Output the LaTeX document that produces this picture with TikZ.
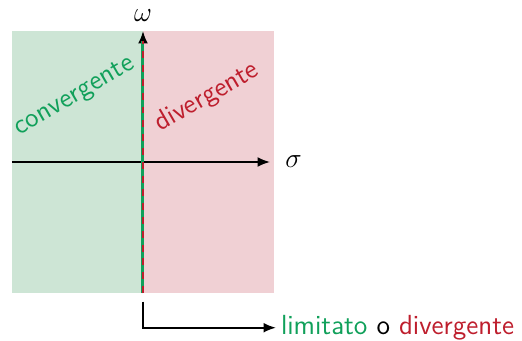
\documentclass[tikz,border=0pt]{standalone}
\usepackage{tikz}
\usetikzlibrary{arrows.meta, positioning, calc}
\definecolor{ConvGreen}{RGB}{16,160,90}
\definecolor{DivRed}{RGB}{190,30,45}
\definecolor{ConvFill}{RGB}{205,229,213}
\definecolor{DivFill}{RGB}{240,208,212}
\renewcommand{\familydefault}{\sfdefault}

\begin{document}
\begin{tikzpicture}[
    axisline/.style={thick, -{Latex[length=1.9mm, width=1.5mm]}},
    regionlabel/.style={font=\large, rotate=30}
  ]
                \useasboundingbox (-2.183,-2.718) rectangle (5.786,2.473);

                % Regions
                \fill[ConvFill] (-2,-2) rectangle (0,2);
                \fill[DivFill] (0,-2) rectangle (2,2);

                % Axes
                \coordinate (xstart) at (-2,0);
                \coordinate (xend) at (1.94,0);
                \coordinate (ystart) at (0,-2);
                \coordinate (yend) at (0,2);
                \draw[axisline] (xstart) -- (xend);
                \draw[axisline] (ystart) -- (yend);
                \node[anchor=west] (sigma) at (2.05,0) {\large$\sigma$};
                \node (omega) at (0,2.24) {\large$\omega$};

                % Imaginary axis: green with red dashes
                \coordinate (ytop) at (0,1.84);
                \draw[ConvGreen, line width=1.3pt] (ystart) -- (ytop);
                \draw[DivRed, line width=0.7pt, dash pattern=on 3pt off 3pt] (ystart) -- (ytop);

                % Region labels
                \node[regionlabel, text=ConvGreen] (conv) at (-1.04,0.99) {convergente};
                \node[regionlabel, text=DivRed] (div) at (0.98,0.99) {divergente};

                % Bound on the axis
                \coordinate (bstart) at (0,-2.13);
                \node[anchor=west, font=\large, inner sep=2pt] (bound) at (2.03,-2.53)
                    {\textcolor{ConvGreen}{limitato} o \textcolor{DivRed}{divergente}};
                \draw[axisline] (bstart) |- (bound.west);
            \end{tikzpicture}
\end{document}
